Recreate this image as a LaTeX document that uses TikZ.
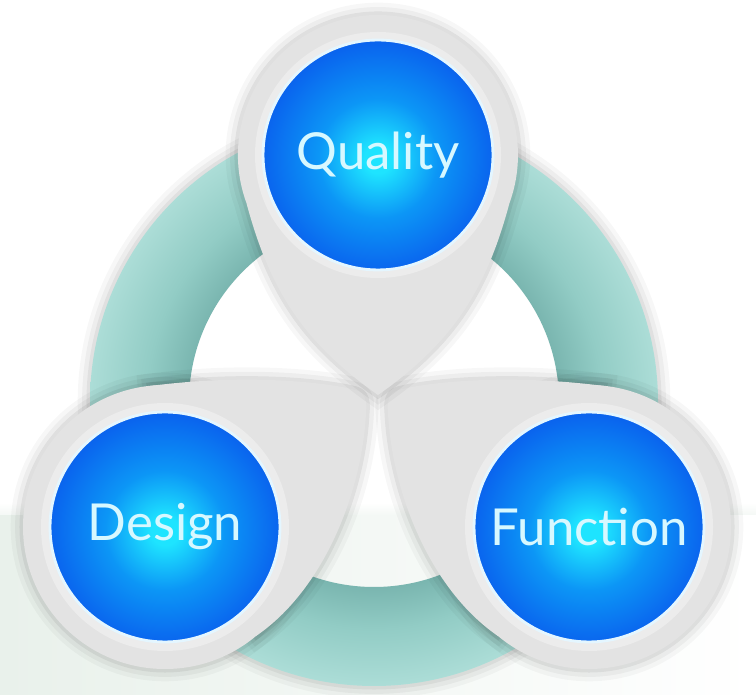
\documentclass[tikz,border=0pt]{standalone}
\usepackage{fontspec}
\setmainfont{Lato}
\usetikzlibrary{calc}
\definecolor{tealL}{RGB}{172,221,215}
\definecolor{tealM}{RGB}{146,204,197}
\definecolor{tealD}{RGB}{120,180,174}
\definecolor{greyF}{RGB}{227,227,227}
\definecolor{greyL}{RGB}{236,236,236}
\definecolor{bcyan}{RGB}{30,228,255}
\definecolor{bmid}{RGB}{12,150,246}
\definecolor{bedge}{RGB}{10,100,238}
\definecolor{txtc}{RGB}{215,248,255}
\definecolor{rimc}{RGB}{228,246,255}
\definecolor{bandL}{RGB}{233,241,235}
\pgfdeclareradialshading{ballshade}{\pgfpoint{0bp}{-1bp}}{color(0bp)=(bcyan); color(3bp)=(bcyan); color(13bp)=(bmid); color(25bp)=(bedge); color(50bp)=(bedge)}
\pgfdeclareradialshading{ringshade}{\pgfpoint{0bp}{0bp}}{color(0bp)=(tealD); color(16bp)=(tealD); color(20bp)=(tealM); color(25bp)=(tealL); color(50bp)=(tealL)}
\newcommand\dblob{(150,309) .. controls (250,322) and (330,312) .. (356,305) .. controls (366,302) and (367,293) .. (366,282) .. controls (362,200) and (322,104) .. (256.3,59.2) -- (165,168) -- cycle}
\newcommand\ddisc{(165,168) circle[radius=142]}
\newcommand\qpin{(378,300) to[out=145,in=285] (246.4,492.1) arc[start angle=200,end angle=-20,radius=140] to[out=255,in=35] (378,300) -- cycle}
\begin{document}
\begin{tikzpicture}[x=0.02cm,y=0.02cm,
  ball/.style={circle, minimum size=4.6cm, inner sep=0pt, shading=ballshade, draw=rimc, line width=1.6pt, text=txtc, font=\fontsize{29}{30}\selectfont},
  softshadow/.style={draw=black, opacity=#1, fill=none},
]
\useasboundingbox (0,0) rectangle (756,695);
\fill[white] (0,0) rectangle (756,695);
\shade[left color=bandL, right color=white] (0,0) rectangle (756,180);
\shade[top color=white, bottom color=bandL!50!white] (0,180) rectangle (756,192);
% teal ring
\foreach \w/\o in {14/0.03,9/0.04,4/0.05}{\draw[softshadow=\o, line width=\w pt] (374,293) circle[radius=284];}
\shade[shading=ringshade, even odd rule] (374,293) circle[radius=284] (374,293) circle[radius=185];
% lower grey shapes
\foreach \w/\o in {14/0.03,9/0.04,4/0.06}{
  \draw[softshadow=\o, line width=\w pt] \dblob; \draw[softshadow=\o, line width=\w pt] \ddisc;
  \begin{scope}[shift={(754,0)},xscale=-1]
    \draw[softshadow=\o, line width=\w pt] \dblob; \draw[softshadow=\o, line width=\w pt] \ddisc;
  \end{scope}}
\fill[greyF] \dblob; \fill[greyF] \ddisc;
\begin{scope}[shift={(754,0)},xscale=-1]
  \fill[greyF] \dblob; \fill[greyF] \ddisc;
\end{scope}
% quality pin
\foreach \w/\o in {14/0.03,9/0.04,4/0.06}{\draw[softshadow=\o, line width=\w pt] \qpin;}
\fill[greyF] \qpin;
% light rings
\fill[greyL] (378,540) circle[radius=123];
\fill[greyL] (165,168) circle[radius=124];
\fill[greyL] (589,168) circle[radius=124];
% balls
\node[ball] (q) at (378,540) {Quality};
\node[ball] (d) at (165,168) {Design};
\node[ball] (f) at (589,168) {Function};
\end{tikzpicture}
\end{document}
